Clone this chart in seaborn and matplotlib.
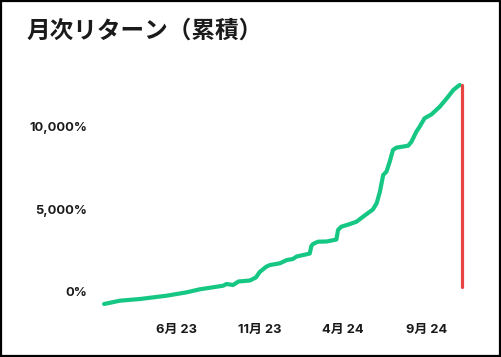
import matplotlib
matplotlib.use("Agg")
import matplotlib.pyplot as plt
import matplotlib.dates as mdates
from matplotlib.patches import Rectangle
import seaborn as sns
import pandas as pd
import numpy as np

# ---- data ----
dates = [
    "2023-01-18", "2023-02-16", "2023-03-25", "2023-05-13", "2023-06-19",
    "2023-07-13", "2023-08-06", "2023-08-25", "2023-08-31", "2023-09-12",
    "2023-09-22", "2023-10-13", "2023-10-24", "2023-10-31", "2023-11-12",
    "2023-11-19", "2023-12-07", "2023-12-20", "2023-12-31", "2024-01-07",
    "2024-01-25", "2024-01-31", "2024-02-03", "2024-02-06", "2024-02-15",
    "2024-03-02", "2024-03-20", "2024-03-23", "2024-03-29", "2024-04-14",
    "2024-04-26", "2024-05-08", "2024-05-26", "2024-06-02", "2024-06-08",
    "2024-06-14", "2024-06-20", "2024-06-26", "2024-07-02", "2024-07-08",
    "2024-07-30", "2024-08-05", "2024-08-14", "2024-08-20", "2024-08-29",
    "2024-09-11", "2024-09-26", "2024-10-09", "2024-10-21", "2024-10-30",
    "2024-11-02",
]
cum_return = [
    -727, -527, -424, -224, -18,
    164, 285, 382, 485, 424,
    636, 697, 879, 1212, 1533,
    1636, 1739, 1939, 2000, 2152,
    2285, 2333, 2788, 2909, 3048,
    3061, 3182, 3758, 3958, 4121,
    4261, 4564, 5000, 5376, 6079,
    7091, 7291, 7897, 8606, 8745,
    8867, 9109, 9715, 10018, 10527,
    10770, 11230, 11739, 12242, 12485,
    12545,
]
drop_dates = ["2024-11-06", "2024-11-06"]
drop_values = [12545, 273]

ytick_values = [0, 5000, 10000]
ytick_labels = ["0%", "5,000%", "10,000%"]
xtick_dates = ["2023-06-01", "2023-11-01", "2024-04-01", "2024-09-01"]
xtick_labels = ["6月 23", "11月 23", "4月 24", "9月 24"]
title = "月次リターン（累積）"

# ---- styling ----
sns.set_style("white")
plt.rcParams["font.family"] = ["Noto Sans CJK JP", "DejaVu Sans"]
tick_family = ["Inter", "Noto Sans CJK JP", "DejaVu Sans"]

W, H = 502, 357
fig = plt.figure(figsize=(W / 100, H / 100), dpi=100)

# axes placement in pixels
left_px, right_px, top_px, bot_px = 100, 470, 75, 310
ax = fig.add_axes([left_px / W, 1 - bot_px / H, (right_px - left_px) / W, (bot_px - top_px) / H])

df = pd.DataFrame({"date": pd.to_datetime(dates), "value": cum_return})
dfr = pd.DataFrame({"date": pd.to_datetime(drop_dates), "value": drop_values})

sns.lineplot(data=df, x="date", y="value", ax=ax, color="#16c784", linewidth=3.0,
             estimator=None, sort=False, solid_joinstyle="round", solid_capstyle="round")
sns.lineplot(data=dfr, x="date", y="value", ax=ax, color="#e94545", linewidth=2.3,
             estimator=None, sort=False)

# scales: 0.544 px per day, 0.0165 px per percent
base = mdates.date2num(pd.Timestamp("2023-06-01"))
ax.set_xlim(base + (left_px - 177) / 0.544, base + (right_px - 177) / 0.544)
ax.set_ylim((292 - bot_px) / 0.0165, (292 - top_px) / 0.0165)

ax.set_xticks([mdates.date2num(pd.Timestamp(d)) for d in xtick_dates])
ax.set_xticklabels(xtick_labels)
ax.set_yticks(ytick_values)
ax.set_yticklabels(ytick_labels)
ax.tick_params(axis="both", length=0, colors="#1a1a1a")
ax.tick_params(axis="y", pad=9)
ax.tick_params(axis="x", pad=10)
for lab in ax.get_xticklabels() + ax.get_yticklabels():
    lab.set_fontweight("bold")
    lab.set_family(tick_family)
    lab.set_fontsize(9.3)
ax.set_xlabel("")
ax.set_ylabel("")
ax.grid(False)
sns.despine(ax=ax, left=True, bottom=True)

fig.text(27 / W, 1 - 31 / H, title, ha="left", va="center", fontsize=17,
         fontweight="bold", color="#1a1a1a")

# outer black frame
fig.add_artist(Rectangle((1 / W, 1 / H), 499 / W, 355 / H, transform=fig.transFigure,
                         fill=False, edgecolor="black", linewidth=1.6))

fig.savefig("out.png", dpi=100, facecolor="white")
